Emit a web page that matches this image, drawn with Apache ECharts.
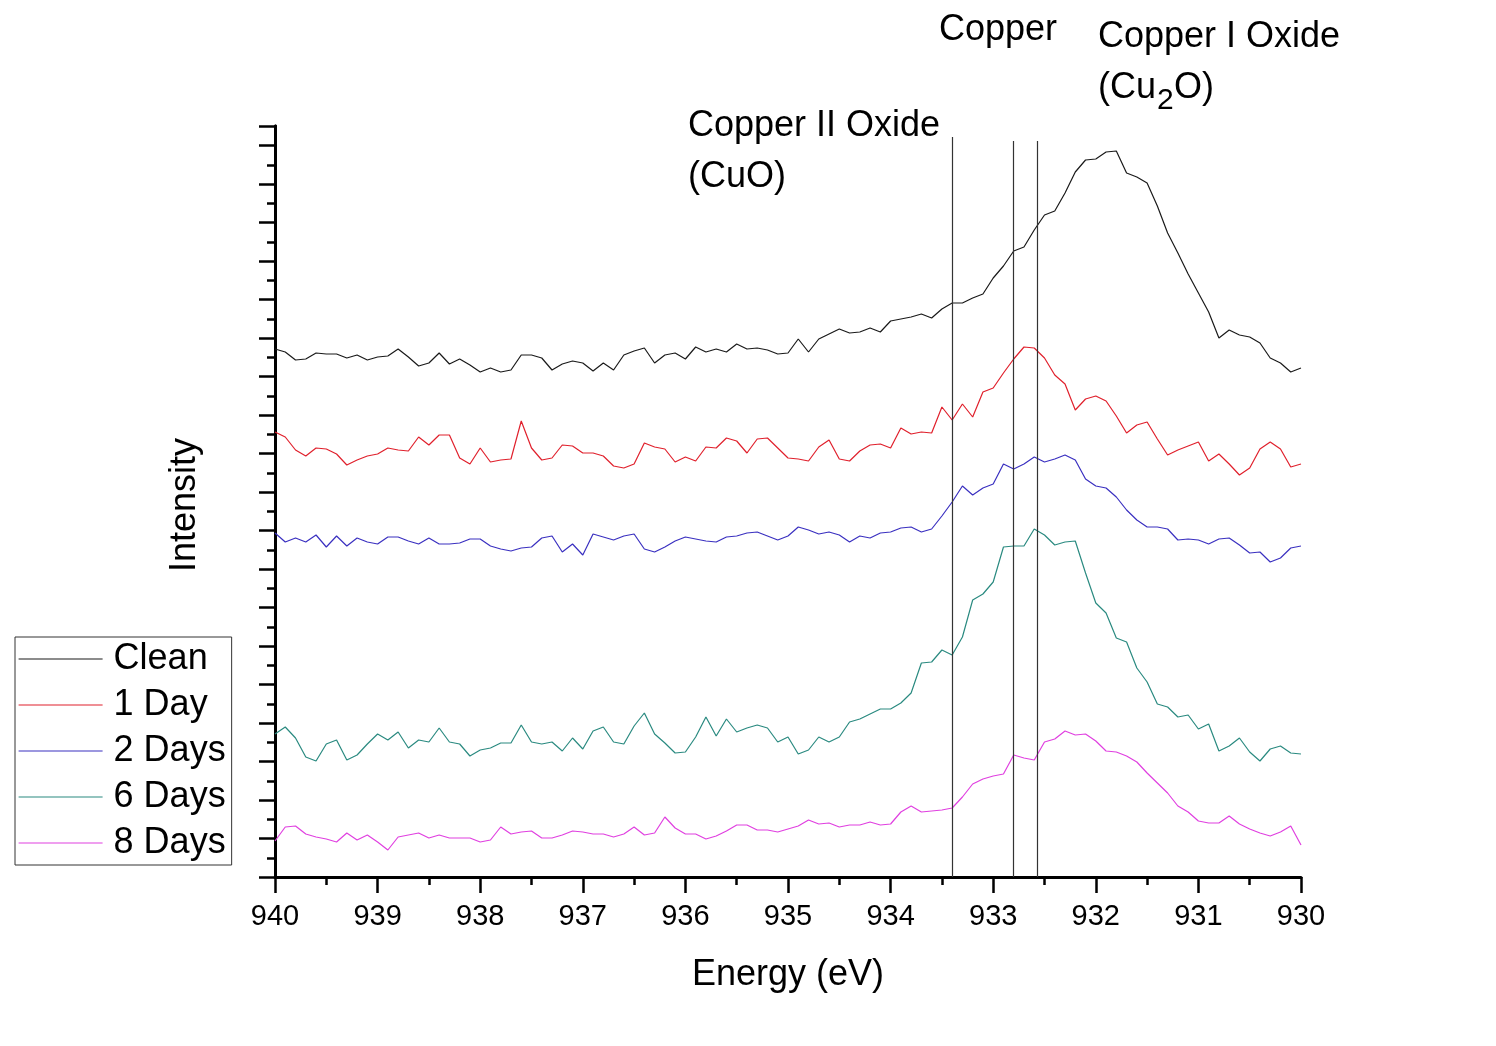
<!DOCTYPE html>
<html>
<head>
<meta charset="utf-8">
<script src="https://cdn.jsdelivr.net/npm/echarts@6/dist/echarts.min.js"></script>
<style>
html,body{margin:0;padding:0;background:#fff;}
#chart{width:1496px;height:1046px;}
</style>
</head>
<body>
<div id="chart"></div>
<script>
// Energy grid: 940 eV down to 930 eV in 0.1 eV steps (101 points)
const energyStart = 940;
const energyStep = 0.1;
const pointCount = 101;

const seriesNames = ['Clean', '1 Day', '2 Days', '6 Days', '8 Days'];
const seriesColors = ['#1a1a1a', '#e0202c', '#3a30c0', '#2a8a80', '#e040e0'];

// Intensity (arbitrary units, stacked offsets as in the figure)
const clean = [528,525,517,518,524,523,523,519,522,517,520,521,528,520,511,514,524,513,518,512,505,509,505,507,522,522,519,507,513,516,514,506,514,507,
  522,526,529,514,522,524,518,530,525,528,525,533,528,529,527,523,524,538,525,538,543,548,544,545,549,545,556,558,560,563,559,
  568,574,574,579,583,599,611,626,630,647,662,666,684,705,717,718,725,726,704,700,694,671,644,624,603,584,565,539,547,542,540,534,519,514,505,509];
const day1 = [445,440,427,421,429,428,423,412,417,421,423,429,427,426,440,432,442,442,419,413,429,415,417,418,456,429,417,419,432,431,424,424,421,411,
  409,413,434,430,428,415,420,416,430,429,439,436,424,438,439,429,419,418,416,430,437,418,416,426,432,433,429,449,443,445,444,
  470,457,473,460,485,489,504,518,530,529,519,502,493,467,478,481,476,461,444,452,455,438,422,427,431,435,416,423,413,402,409,428,435,428,410,413];
const days2 = [344,335,339,335,342,330,341,331,339,335,333,340,340,336,333,339,333,333,334,338,338,331,328,326,329,330,339,341,325,333,322,343,340,337,
  341,343,328,325,330,336,340,338,336,335,340,341,344,345,341,337,341,350,347,343,345,342,335,341,339,344,345,349,350,345,348,
  361,375,391,382,389,393,413,408,413,420,415,418,422,417,398,391,389,380,367,357,350,350,348,337,338,337,333,338,339,332,324,325,315,319,329,331];
const days6 = [143,150,139,120,116,133,137,117,122,133,143,137,145,129,137,135,149,135,133,121,127,129,134,134,152,135,133,135,126,139,128,146,150,135,
  133,151,164,143,134,124,125,140,160,141,158,145,149,152,149,135,140,123,127,140,135,140,155,158,163,168,168,174,184,214,215,
  227,222,240,277,283,295,330,331,331,348,342,332,335,336,304,274,264,239,235,209,195,173,170,160,162,148,153,126,131,139,125,116,128,131,124,123];
const days8 = [36,50,51,43,40,38,35,44,37,42,35,27,40,42,44,39,42,39,39,39,35,37,50,43,45,46,39,39,42,46,45,43,43,40,
  43,50,42,44,60,49,43,43,38,41,46,52,52,47,47,45,48,51,57,53,54,50,52,52,55,52,53,65,71,65,66,
  67,69,80,93,98,101,103,122,119,117,135,138,146,142,143,136,126,125,121,115,104,94,84,71,65,56,54,54,61,53,48,44,41,45,51,32];

// Reference peak positions (eV) and the height their markers reach
const peakLines = [933.4, 932.8, 932.57];
const peakLineTops = [740, 736, 736];

const xTicks = [940, 939, 938, 937, 936, 935, 934, 933, 932, 931, 930];

const energies = [];
for (let i = 0; i < pointCount; i++) energies.push(+(energyStart - i * energyStep).toFixed(1));

const allData = [clean, day1, days2, days6, days8];
const FONT = '"Liberation Sans", Arial, sans-serif';

const chart = echarts.init(document.getElementById('chart'), null, {renderer: 'canvas'});

const series = allData.map((vals, k) => ({
  name: seriesNames[k],
  type: 'line',
  data: vals.map((v, i) => [energies[i], v]),
  symbol: 'none',
  showSymbol: false,
  lineStyle: {color: seriesColors[k], width: 1.2},
  itemStyle: {color: seriesColors[k]},
  z: 3,
  markLine: k === 0 ? {
    silent: true,
    symbol: ['none', 'none'],
    label: {show: false},
    lineStyle: {color: '#333', width: 1.2, type: 'solid'},
    data: peakLines.map((e, j) => [{coord: [e, 0]}, {coord: [e, peakLineTops[j]]}])
  } : undefined
}));

const option = {
  animation: false,
  backgroundColor: '#ffffff',
  grid: {left: 275, right: 195, top: 126, bottom: 169, containLabel: false},
  legend: {
    orient: 'vertical',
    left: 15,
    top: 637,
    padding: [2, 6, 2, 3],
    itemWidth: 84,
    itemHeight: 14,
    itemGap: 6,
    borderColor: '#333',
    borderWidth: 1,
    data: seriesNames,
    itemStyle: {opacity: 0},
    lineStyle: {width: 1.2},
    textStyle: {fontFamily: FONT, fontSize: 36, color: '#000', lineHeight: 40, padding: [0, 0, 0, 6]}
  },
  xAxis: {
    type: 'value',
    min: 930,
    max: 940,
    interval: 1,
    inverse: true,
    name: 'Energy (eV)',
    nameLocation: 'middle',
    nameGap: 80,
    nameTextStyle: {fontFamily: FONT, fontSize: 36, color: '#000'},
    axisLine: {show: true, onZero: false, lineStyle: {color: '#000', width: 3}},
    axisTick: {show: true, length: 16, lineStyle: {color: '#000', width: 2.5}},
    minorTick: {show: true, splitNumber: 2, length: 8, lineStyle: {color: '#000', width: 2.5}},
    splitLine: {show: false},
    minorSplitLine: {show: false},
    axisLabel: {fontFamily: FONT, fontSize: 29, color: '#000', margin: 25,
      formatter: v => (xTicks.indexOf(v) >= 0 ? String(v) : '')}
  },
  yAxis: [
    {
      type: 'value', min: 0, max: 751, interval: 38.5, position: 'left',
      axisLine: {show: true, lineStyle: {color: '#000', width: 3}},
      axisTick: {show: true, length: 16, lineStyle: {color: '#000', width: 2.5}},
      axisLabel: {show: false},
      splitLine: {show: false}
    },
    {
      type: 'value', min: 0, max: 751, interval: 19.25, position: 'left', offset: 0,
      axisLine: {show: true, lineStyle: {color: '#000', width: 3}},
      axisTick: {show: true, length: 8, lineStyle: {color: '#000', width: 2.5}},
      axisLabel: {show: false},
      splitLine: {show: false}
    }
  ],
  series: series,
  graphic: [
    {type: 'text', x: 185, y: 505, rotation: Math.PI / 2,
      style: {text: 'Intensity', font: '36px ' + FONT, fill: '#000', textAlign: 'center', textVerticalAlign: 'middle'}},
    {type: 'text', x: 688, y: 126,
      style: {text: 'Copper II Oxide', font: '36px ' + FONT, fill: '#000', textAlign: 'left', textVerticalAlign: 'middle'}},
    {type: 'text', x: 688, y: 177,
      style: {text: '(CuO)', font: '36px ' + FONT, fill: '#000', textAlign: 'left', textVerticalAlign: 'middle'}},
    {type: 'text', x: 939, y: 30,
      style: {text: 'Copper', font: '36px ' + FONT, fill: '#000', textAlign: 'left', textVerticalAlign: 'middle'}},
    {type: 'text', x: 1098, y: 37,
      style: {text: 'Copper I Oxide', font: '36px ' + FONT, fill: '#000', textAlign: 'left', textVerticalAlign: 'middle'}},
    {type: 'text', x: 1098, y: 88,
      style: {text: '(Cu', font: '36px ' + FONT, fill: '#000', textAlign: 'left', textVerticalAlign: 'middle'}},
    {type: 'text', x: 1157, y: 101,
      style: {text: '2', font: '30px ' + FONT, fill: '#000', textAlign: 'left', textVerticalAlign: 'middle'}},
    {type: 'text', x: 1174, y: 88,
      style: {text: 'O)', font: '36px ' + FONT, fill: '#000', textAlign: 'left', textVerticalAlign: 'middle'}}
  ]
};

chart.setOption(option);
</script>
</body>
</html>
